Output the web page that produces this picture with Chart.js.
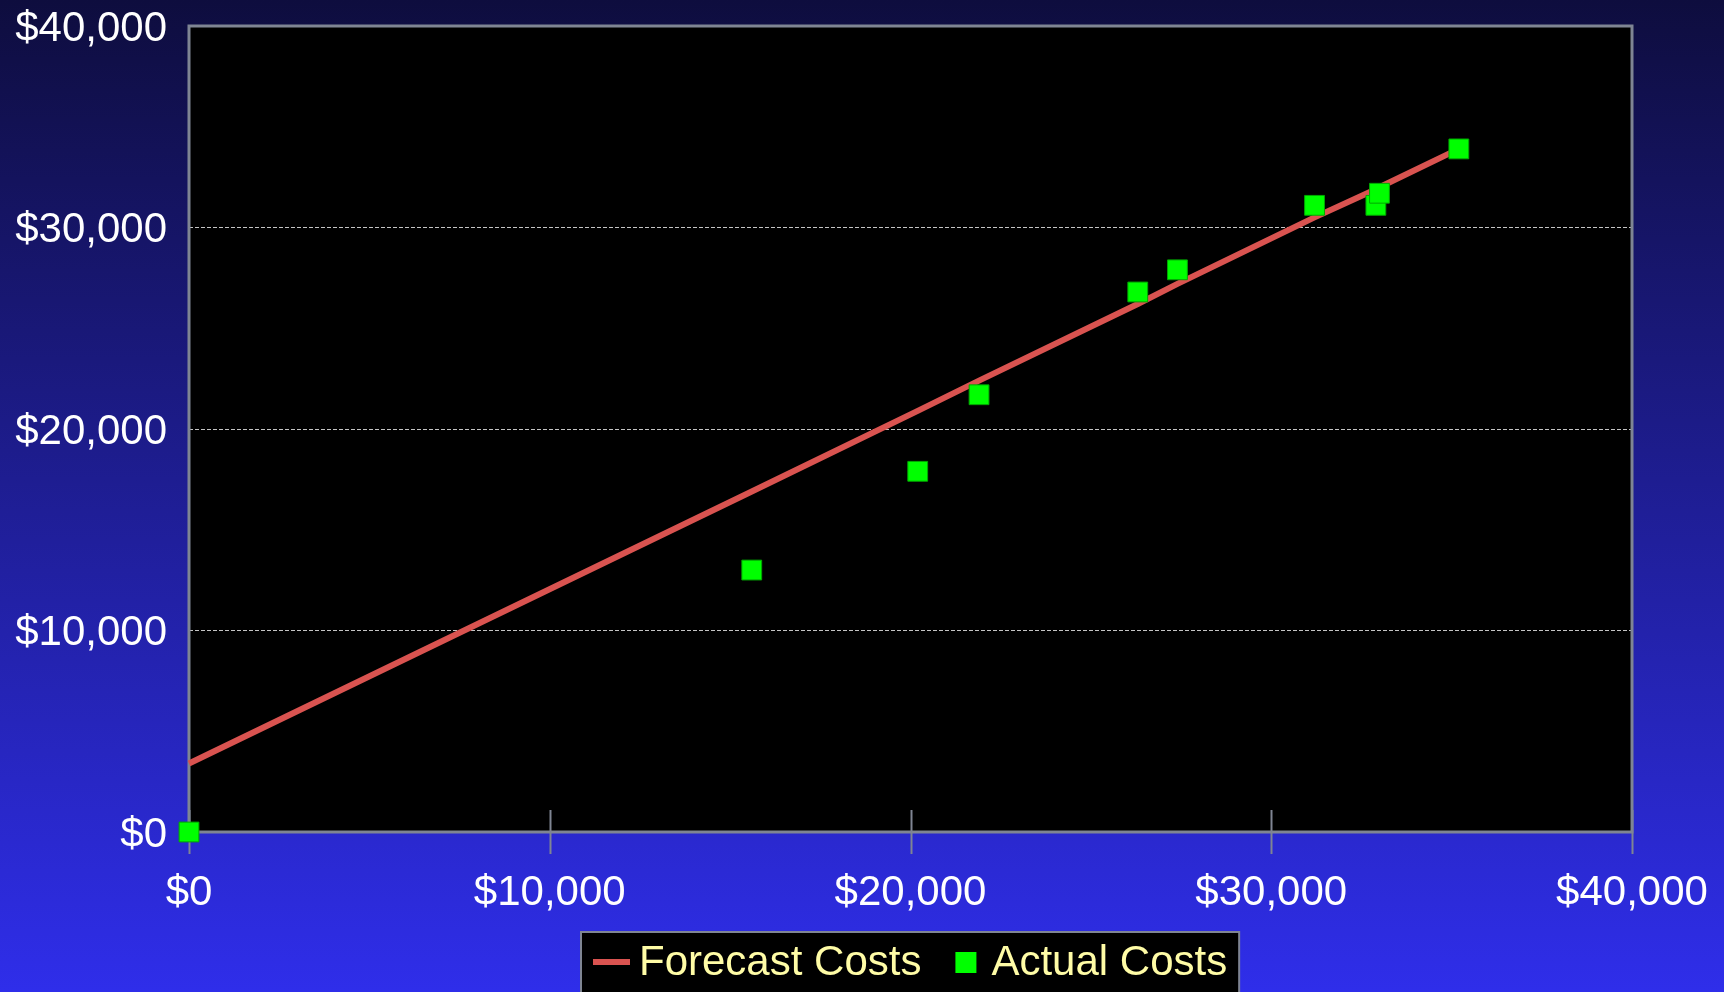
<!DOCTYPE html>
<html>
<head>
<meta charset="utf-8">
<title>Forecast vs Actual Costs</title>
<script src="https://cdn.jsdelivr.net/npm/chart.js@4"></script>
<style>
  html, body { margin: 0; padding: 0; background: #1c1c90; }
  canvas { display: block; }
</style>
</head>
<body>
<canvas id="costChart" width="1724" height="992"></canvas>
<script>
// cumulative spend: x = planned cost, y = cost
const costPoints = [0, 15600, 20200, 21900, 26300, 27400, 31200, 32900, 33000, 35200];
const forecastCosts = [3400, 16900, 20900, 22400, 26200, 27200, 30500, 31900, 32000, 33900];
const actualCosts = [0, 13000, 17900, 21700, 26800, 27900, 31100, 31100, 31700, 33900];
const axisTicks = [0, 10000, 20000, 30000, 40000];
const seriesNames = ['Forecast Costs', 'Actual Costs'];

const FONT = "'Liberation Sans', Arial, sans-serif";
const money = v => '$' + Number(v).toLocaleString('en-US');

Chart.defaults.font.family = FONT;

// blue gradient page + black plot area
const backdrop = {
    id: 'backdrop',
    beforeDraw(chart) {
        const { ctx, width, height, chartArea: a } = chart;
        const g = ctx.createLinearGradient(0, 0, 0, height);
        g.addColorStop(0, '#0e0d3e');
        g.addColorStop(1, '#2f2eea');
        ctx.save();
        ctx.fillStyle = g;
        ctx.fillRect(0, 0, width, height);
        ctx.fillStyle = '#000';
        ctx.fillRect(a.left, a.top, a.right - a.left, a.bottom - a.top);
        ctx.restore();
    }
};

// grey frame round the plot, x tick marks crossing the bottom edge
const frame = {
    id: 'frame',
    beforeDatasetsDraw(chart) {
        const { ctx, chartArea: a, scales } = chart;
        ctx.save();
        ctx.strokeStyle = '#7f8593';
        ctx.lineWidth = 2;
        scales.x.ticks.forEach(t => {
            const px = Math.round(scales.x.getPixelForValue(t.value)) + 0.5;
            ctx.beginPath();
            ctx.moveTo(px, a.bottom - 22);
            ctx.lineTo(px, a.bottom + 22);
            ctx.stroke();
        });
        ctx.lineWidth = 3;
        ctx.strokeRect(a.left, a.top, a.right - a.left, a.bottom - a.top);
        ctx.restore();
    }
};

// boxed legend under the x axis
const legendBox = {
    id: 'legendBox',
    afterDraw(chart) {
        const { ctx, chartArea: a } = chart;
        const ds = chart.data.datasets;
        ctx.save();
        ctx.font = '42px ' + FONT;
        ctx.textBaseline = 'middle';
        const w0 = ctx.measureText(ds[0].label).width;
        const w1 = ctx.measureText(ds[1].label).width;
        const pad = 12, lineW = 37, sq = 21;
        const total = pad + lineW + 9 + w0 + 34 + sq + 15 + w1 + pad;
        const left = Math.round((a.left + a.right) / 2 - total / 2);
        const top = 932, midY = 962;

        ctx.fillStyle = '#000';
        ctx.fillRect(left, top, total, 80);
        ctx.strokeStyle = '#7f8593';
        ctx.lineWidth = 2;
        ctx.strokeRect(left, top, total, 80);

        let x = left + pad;
        ctx.strokeStyle = ds[0].borderColor;
        ctx.lineWidth = 6;
        ctx.beginPath();
        ctx.moveTo(x, midY);
        ctx.lineTo(x + lineW, midY);
        ctx.stroke();
        x += lineW + 9;
        ctx.fillStyle = '#fffca6';
        ctx.fillText(ds[0].label, x, midY + 1);
        x += w0 + 34;
        ctx.fillStyle = ds[1].backgroundColor;
        ctx.fillRect(x, midY - 10, sq, sq);
        x += sq + 15;
        ctx.fillStyle = '#fffca6';
        ctx.fillText(ds[1].label, x, midY + 1);
        ctx.restore();
    }
};

const ctx = document.getElementById('costChart').getContext('2d');
const costChart = new Chart(ctx, {
    type: 'scatter',
    data: {
        datasets: [{
            label: seriesNames[0],
            data: costPoints.map((x, i) => ({ x: x, y: forecastCosts[i] })),
            showLine: true,
            borderColor: '#d95350',
            backgroundColor: '#d95350',
            borderWidth: 6,
            pointRadius: 0,
            order: 1,
            clip: false
        }, {
            label: seriesNames[1],
            data: costPoints.map((x, i) => ({ x: x, y: actualCosts[i] })),
            pointStyle: 'rect',
            pointRadius: 14,
            backgroundColor: '#00ff00',
            borderColor: '#00a800',
            borderWidth: 1,
            order: 0,
            clip: false
        }]
    },
    options: {
        responsive: false,
        animation: false,
        devicePixelRatio: 1,
        layout: { padding: { top: 26, right: 92, bottom: 0, left: 0 } },
        plugins: {
            legend: { display: false },
            tooltip: { enabled: false }
        },
        scales: {
            x: {
                type: 'linear',
                min: axisTicks[0],
                max: axisTicks[axisTicks.length - 1],
                afterBuildTicks: s => { s.ticks = axisTicks.map(v => ({ value: v })); },
                ticks: {
                    color: '#ffffff',
                    font: { size: 42 },
                    padding: 0,
                    maxRotation: 0,
                    callback: money
                },
                // invisible tick marks only push the labels down
                grid: { drawOnChartArea: false, drawTicks: true, tickLength: 36, tickColor: 'rgba(0,0,0,0)' },
                border: { display: false },
                afterFit: s => { s.height = 160; }
            },
            y: {
                type: 'linear',
                min: axisTicks[0],
                max: axisTicks[axisTicks.length - 1],
                afterBuildTicks: s => { s.ticks = axisTicks.map(v => ({ value: v })); },
                ticks: {
                    color: '#ffffff',
                    font: { size: 42 },
                    padding: 0,
                    labelOffset: 3,
                    callback: money
                },
                grid: {
                    drawTicks: true,
                    tickLength: 22,
                    tickColor: 'rgba(0,0,0,0)',
                    lineWidth: 1,
                    color: c => (c.tick && c.tick.value > 0 && c.tick.value < 40000) ? '#c4c4c4' : 'rgba(0,0,0,0)'
                },
                border: { display: false, dash: [4, 2] },
                afterFit: s => { s.width = 189; }
            }
        }
    },
    plugins: [backdrop, frame, legendBox]
});
</script>
</body>
</html>
